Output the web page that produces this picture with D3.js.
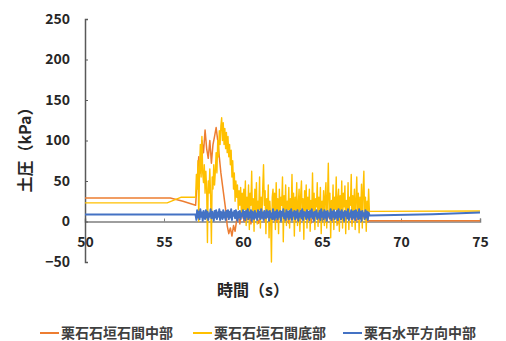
<!DOCTYPE html>
<html>
<head>
<meta charset="utf-8">
<script src="https://cdn.jsdelivr.net/npm/d3@7"></script>
<style>
  body { margin: 0; background: #fff; }
  text { font-family: "Noto Sans CJK JP", "Noto Sans", sans-serif; }
</style>
</head>
<body>
<script>
// series names (legend order)
var seriesNames = ["栗石石垣石間中部", "栗石石垣石間底部", "栗石水平方向中部"];
var seriesColors = ["#ED7D31", "#FFC000", "#4472C4"];

// axis ticks
var xTicks = [50, 55, 60, 65, 70, 75];
var yTicks = [-50, 0, 50, 100, 150, 200, 250];

// calm part before shaking: [time, kPa]
var orangeBefore = [[50, 29], [55.4, 29], [56.2, 25], [57, 20]];
var yellowBefore = [[50, 23], [55.2, 23], [56.1, 30], [57, 30]];
var blueBefore   = [[50, 8.5], [57, 8.5]];

// shaking part, 57 s to 68 s, evenly spaced samples (kPa)
var orangeShake = [20, 50, 80, 60, 100, 85, 113, 90, 78, 100, 72, 95, 105, 116, 100, 80, 60, 45, 30, 15,
  -5, -15, -8, -18, -5, -12, 2, 8, -3, 10,
  5, 0, 8, 2, 10, -3, 6, 1, 9, 3, -2, 7, 4, 11, 0, 5, 8, -4, 6, 2, 10, 3, -1, 7, 5, 12, 1, 4, 9, -2,
  6, 3, 8, 0, 11, 4, -3, 7, 2, 9, 5, 1, 10, -2, 6, 3, 8, 4, 0, 12, 5, 2, 7, -1, 9, 3, 6, 1, 10, 4,
  -3, 8, 2, 5, 11, 0, 6, 3, 9, -2, 7, 4, 1, 10, 5, 2, 8, 3, 6, 0, 1];
var yellowShake = [
  30, 58, 40, 75, 0, 65, 95, 55, 105, 60, 48, 70, 35, 62, 40, -26, 50, 35, 65, 30,
  -27, 55, 40, 70, 45, 62, 85, 60, 100, 80, 112, 95, 118, 128, 100, 122, 95, 115, 90, 110,
  85, 105, 80, 95, 70, 88, 55, 75, 40, 60, 25, 50, 30, 45, 15, 38, 20, 42, 10, 35,
  8, 40, 15, 50, -5, 30, 12, 45, -10, 35, 20, 62, 5, 28, -12, 40, 10, 48, -3, 25,
  15, 55, -8, 30, 5, 42, 70, 20, 38, -15, 28, 10, 45, -20, 25, 5, -50, 30, 40, 8,
  35, -10, 48, 12, 28, -15, 40, 5, 30, 20, 55, -25, 32, 8, 45, -5, 25, 15, 42, -8,
  28, 10, 58, 5, 35, -18, 30, 12, 48, -5, 22, 40, -12, 32, 50, 3, 28, -22, 38, 10,
  45, -8, 30, 15, 40, -12, 26, 8, 60, 5, 35, -10, 28, 18, 48, -6, 30, 12, 42, -15,
  25, 10, 38, -5, 32, 48, -8, 28, 72, 12, 35, -20, 26, 8, 45, -10, 30, 15, 55, -5,
  28, 40, -12, 32, 10, 50, -8, 35, 18, 44, -15, 26, 6, 48, -10, 30, 20, 58, -6, 32,
  12, 40, -10, 28, 55, 5, 35, -14, 30, 10, 46, -8, 38, 62, 2, 30, -12, 25, 8, 40,
  12];
var blueShake = [
  8, 2, 14, 5, 12, 3, 15, 6, 11, 1, 13, 7, 3, 14, 5, 12, 2, 10, 6, 15,
  4, 12, 7, 1, 13, 5, 14, 3, 11, 6, 15, 2, 12, 8, 3, 14, 5, 11, 2, 13,
  6, 14, 3, 12, 5, 15, 2, 11, 7, 13, 4, 14, 6, 1, 12, 5, 13, 3, 10, 7,
  14, 4, 12, 2, 13, 6, 15, 3, 11, 5, 14, 1, 12, 7, 3, 13, 5, 10, 2, 14,
  6, 12, 3, 15, 5, 11, 2, 13, 7, 4, 14, 6, 12, 1, 13, 5, 10, 3, 15, 7,
  2, 12, 5, 14, 3, 11, 6, 13, 1, 12, 7, 15, 4, 10, 2, 14, 6, 12, 3, 13,
  5, 15, 2, 11, 7, 13, 3, 12, 5, 14, 1, 10, 6, 13, 4, 15, 2, 12, 7, 11,
  3, 14, 5, 12, 2, 13, 6, 15, 4, 11, 1, 12, 7, 14, 3, 10, 5, 13, 2, 15,
  6, 11, 3, 14, 5, 12, 1, 13, 7, 10, 4, 15, 2, 12, 6, 14, 3, 11, 5, 13,
  2, 15, 6, 12, 3, 14, 5, 11, 1, 13, 7, 12, 4, 15, 2, 10, 6, 14, 3, 12,
  5, 13, 2, 14, 6, 11, 3, 15, 4, 12, 1, 13, 7, 10, 3, 14, 5, 12, 2, 11,
  8];

// calm part after shaking
var orangeAfter = [[68, 1], [75, 1]];
var yellowAfter = [[68, 12.5], [75, 13]];
var blueAfter   = [[68, 7.5], [72, 9], [75, 11]];

var width = 506, height = 341;
var svg = d3.select("body").append("svg")
    .attr("width", width)
    .attr("height", height);

var x = d3.scaleLinear().domain([50, 75]).range([85, 480]);
var y = d3.scaleLinear().domain([-50, 250]).range([262, 19]);

// put the 3 pieces of a series together
function joinSeries(before, shake, after){
    var pts = before.slice();
    var n = shake.length;
    shake.forEach(function(v, i){
        pts.push([57 + i * 11 / (n - 1), v]);
    });
    return pts.concat(after);
}

var allSeries = [
    joinSeries(orangeBefore, orangeShake, orangeAfter),
    joinSeries(yellowBefore, yellowShake, yellowAfter),
    joinSeries(blueBefore, blueShake, blueAfter)
];
var widths = [1.5, 1.4, 2];

var line = d3.line()
    .x(function(d){ return x(d[0]); })
    .y(function(d){ return y(d[1]); });

// x axis on the zero line
var xAxis = svg.append("g")
    .attr("transform", "translate(0," + y(0) + ")")
    .call(d3.axisBottom(x).tickValues(xTicks).tickSize(-3).tickPadding(16));
xAxis.select(".domain").attr("stroke", "#7f7f7f").attr("stroke-width", 1.5);
xAxis.selectAll(".tick line").attr("stroke", "#7f7f7f");

var yAxis = svg.append("g")
    .attr("transform", "translate(" + x(50) + ",0)")
    .call(d3.axisLeft(y).tickValues(yTicks).tickSize(-3).tickPadding(15));
yAxis.select(".domain").attr("stroke", "#595959").attr("stroke-width", 1.5);
yAxis.selectAll(".tick line").attr("stroke", "#595959");

svg.selectAll(".tick text")
    .attr("font-size", 14)
    .attr("font-weight", "bold")
    .attr("fill", "#262626");

// data lines
allSeries.forEach(function(pts, i){
    svg.append("path")
        .datum(pts)
        .attr("fill", "none")
        .attr("stroke", seriesColors[i])
        .attr("stroke-width", widths[i])
        .attr("stroke-linejoin", "round")
        .attr("d", line);
});

// axis titles
svg.append("text")
    .attr("x", 253).attr("y", 296)
    .attr("text-anchor", "middle")
    .attr("font-size", 16).attr("font-weight", "bold")
    .attr("fill", "#262626")
    .text("時間（s）");

svg.append("text")
    .attr("transform", "translate(31,146) rotate(-90)")
    .attr("text-anchor", "middle")
    .attr("font-size", 16).attr("font-weight", "bold")
    .attr("fill", "#262626")
    .text("土圧（kPa）");

// legend
var legendX = [40, 193, 343];
seriesNames.forEach(function(name, i){
    var g = svg.append("g").attr("transform", "translate(" + legendX[i] + ",333)");
    g.append("line")
        .attr("x1", 0).attr("x2", 19)
        .attr("stroke", seriesColors[i]).attr("stroke-width", 2);
    g.append("text")
        .attr("x", 21).attr("dy", "0.36em")
        .attr("font-size", 14).attr("font-weight", "bold")
        .attr("fill", "#404040")
        .text(name);
});
</script>
</body>
</html>
